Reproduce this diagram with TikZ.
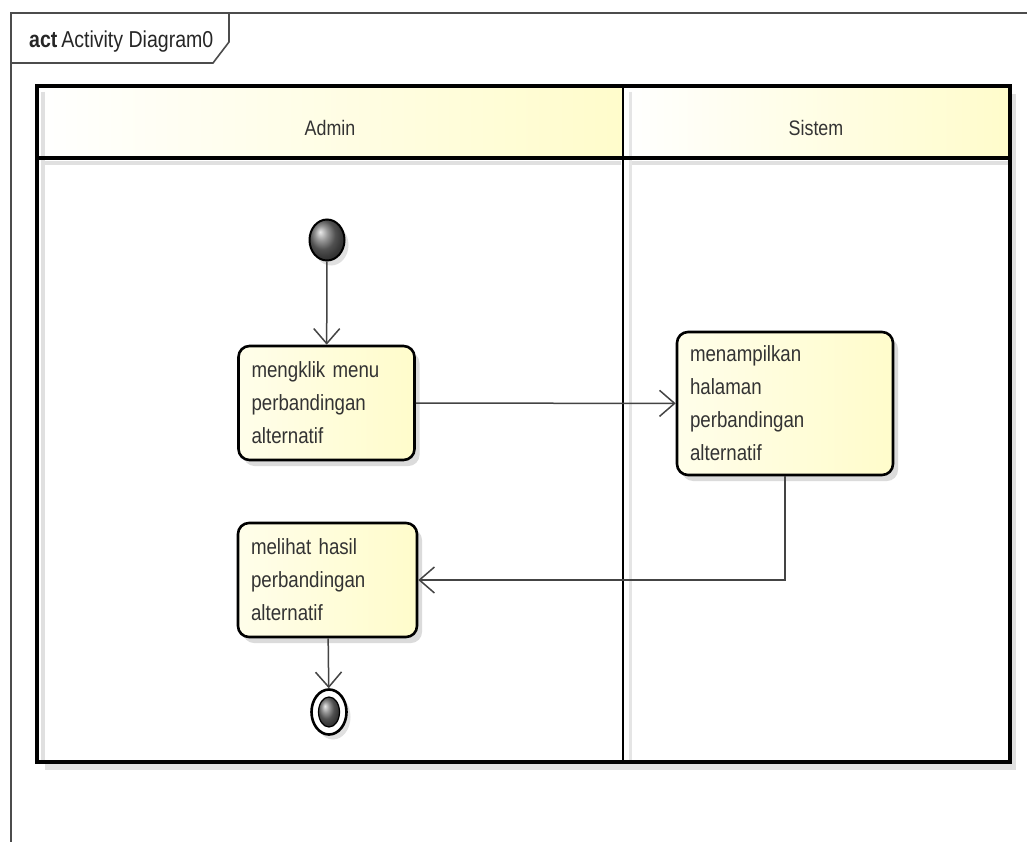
\documentclass[tikz,border=0pt]{standalone}
\usepackage{fontspec}
\setmainfont{Liberation Sans}
\newfontfamily\nf[FakeStretch=0.85]{Liberation Sans}
\usetikzlibrary{arrows.meta,shapes.geometric,shadows,calc}
\definecolor{txt}{HTML}{333333}
\definecolor{ln}{HTML}{444444}
\definecolor{boxy}{HTML}{FFFCCB}
\begin{document}
\begin{tikzpicture}[x=1pt,y=-1pt,
  framestyle/.style={draw=black!70,line width=1.6pt},
  lanehead/.style={draw=none,left color=white,right color=boxy,font=\nf\fontsize{21}{26}\selectfont,text=txt,inner sep=0pt},
  action/.style={draw=black,line width=2.6pt,rounded corners=11pt,left color=boxy!40,right color=boxy,
     align=left,text=txt,font=\nf\fontsize{22}{33}\selectfont,inner xsep=13pt,
     drop shadow={shadow xshift=5pt,shadow yshift=-6pt,fill=black!14,opacity=1}},
  initnode/.style={ellipse,draw=black,line width=2pt,minimum width=35pt,minimum height=41pt,inner sep=0pt,
     shading=ball,ball color=black!55,drop shadow={shadow xshift=4pt,shadow yshift=-5pt,fill=black!12,opacity=1}},
  finalouter/.style={ellipse,draw=black,line width=2.6pt,fill=white,minimum width=35pt,minimum height=45pt,inner sep=0pt,
     drop shadow={shadow xshift=4pt,shadow yshift=-5pt,fill=black!12,opacity=1}},
  finalinner/.style={ellipse,draw=black,line width=1.2pt,shading=ball,ball color=black!55,minimum width=21pt,minimum height=30pt,inner sep=0pt},
  flow/.style={draw=ln,line width=1.5pt,-{Straight Barb[length=15pt,width=26pt,line width=1.5pt]}}
]
\useasboundingbox (0,0) rectangle (1027,842);
\fill[white] (0,0) rectangle (1027,842);

% outer frame
\draw[framestyle] (11,850) -- (11,13) -- (1035,13);
\draw[framestyle] (11,63) -- (213,63) -- (229,42) -- (229,13);
\node[anchor=base west,inner sep=0pt,text=black!85,font=\nf\fontsize{23}{26}\selectfont] (title) at (29,48) {\textbf{act}\,Activity Diagram0};

% pool shadow
\fill[black!12] (45,762) rectangle (1016,770);
\fill[black!12] (1010,94) rectangle (1016,770);

% headers
\node[lanehead,minimum width=586pt,minimum height=72pt] (hAdmin) at (330,122) {};
\node[lanehead,minimum width=387pt,minimum height=72pt] (hSistem) at (816.5,122) {};
\node[font=\nf\fontsize{21}{26}\selectfont,text=txt,inner sep=0pt] (tAdmin) at (330,128) {Admin};
\node[font=\nf\fontsize{21}{26}\selectfont,text=txt,inner sep=0pt] (tSistem) at (816,128) {Sistem};

% inner light lines
\draw[black!12,line width=4pt] (44,163) -- (621,163);
\draw[black!12,line width=4pt] (629,163) -- (1008,163);
\draw[black!12,line width=4pt] (43,92) -- (43,760);
\draw[black!10,line width=3pt] (630,92) -- (630,760);

% pool lines
\draw[black,line width=3.2pt] (37,86) rectangle (1010,762);
\draw[black,line width=3.2pt] (37,158) -- (1010,158);
\draw[black,line width=2.6pt] (623,86) -- (623,762);

% nodes
\node[initnode] (start) at (327,240) {};
\node[action,text width=150pt,minimum height=114pt] (a1) at (326.5,403) {mengklik menu\\perbandingan\\alternatif};
\node[action,text width=190pt,minimum height=143pt] (a2) at (785,403.5) {menampilkan\\halaman\\perbandingan\\alternatif};
\node[action,text width=153pt,minimum height=114pt] (a3) at (327.5,580) {melihat hasil\\perbandingan\\alternatif};
\node[finalouter] (end) at (329,712) {};
\node[finalinner] (endin) at (329,712) {};

% flows
\draw[flow] (start) -- (a1);
\draw[flow] (a1) -- (a2);
\draw[flow] (a2.south) |- (a3.east);
\draw[flow] (a3) -- (end);
\end{tikzpicture}
\end{document}
